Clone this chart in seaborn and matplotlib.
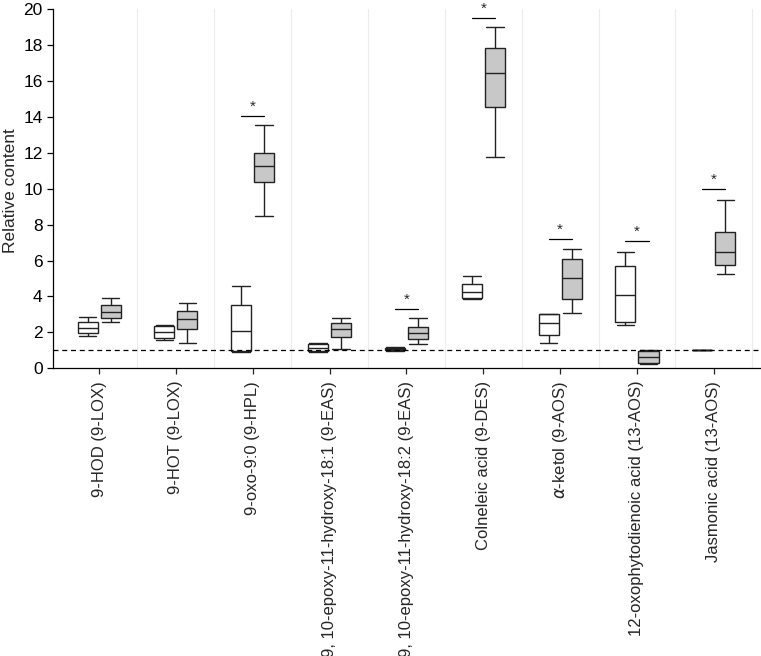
import numpy as np
import pandas as pd
import seaborn as sns
import matplotlib
matplotlib.use("Agg")
import matplotlib.pyplot as plt

compounds = ["9-HOD (9-LOX)", "9-HOT (9-LOX)", "9-oxo-9:0 (9-HPL)",
             "9, 10-epoxy-11-hydroxy-18:1 (9-EAS)",
             "9, 10-epoxy-11-hydroxy-18:2 (9-EAS)",
             "Colneleic acid (9-DES)", "$\\alpha$-ketol (9-AOS)",
             "12-oxophytodienoic acid (13-AOS)", "Jasmonic acid (13-AOS)"]

# five-number summaries: min, q1, median, q3, max
control = [[1.80, 1.95, 2.25, 2.60, 2.85],
           [1.58, 1.67, 2.00, 2.35, 2.40],
           [0.93, 0.96, 2.08, 3.53, 4.60],
           [0.93, 0.98, 1.15, 1.38, 1.42],
           [0.98, 1.02, 1.08, 1.15, 1.20],
           [3.87, 3.90, 4.27, 4.71, 5.16],
           [1.39, 1.86, 2.50, 3.03, 3.05],
           [2.41, 2.60, 4.08, 5.70, 6.46],
           [1.00, 1.00, 1.00, 1.00, 1.00]]
treated = [[2.56, 2.79, 3.12, 3.53, 3.90],
           [1.39, 2.17, 2.73, 3.19, 3.65],
           [8.48, 10.36, 11.27, 12.01, 13.55],
           [1.08, 1.73, 2.19, 2.50, 2.82],
           [1.34, 1.62, 1.95, 2.32, 2.82],
           [11.79, 14.57, 16.47, 17.83, 19.03],
           [3.10, 3.86, 5.01, 6.07, 6.63],
           [0.25, 0.30, 0.65, 0.95, 1.00],
           [5.25, 5.75, 6.46, 7.61, 9.40]]
groups = ["control", "treated"]
# significance bars: (compound index, bar height)
sig_marks = [(2, 14.05), (4, 3.33), (5, 19.5), (6, 7.19), (7, 7.08), (8, 9.99)]

rows = []
for name, c, t in zip(compounds, control, treated):
    for v in c:
        rows.append((name, groups[0], v))
    for v in t:
        rows.append((name, groups[1], v))
df = pd.DataFrame(rows, columns=["compound", "group", "value"])

sns.set_style("ticks")
plt.rcParams["font.family"] = ["Liberation Sans", "DejaVu Sans"]
plt.rcParams["mathtext.fontset"] = "dejavusans"

fig = plt.figure(figsize=(7.61, 6.56), dpi=100)
ax = fig.add_axes([0.0696, 0.4386, 0.929, 0.5473])

sns.boxplot(data=df, x="compound", y="value", hue="group", order=compounds,
            hue_order=groups, palette={"control": "white", "treated": "#c8c8c8"},
            width=0.6, gap=0.13, whis=(0, 100), linecolor="#222222",
            linewidth=1.0, legend=False, ax=ax, capwidths=0.23)

ax.axhline(1, ls="--", color="black", lw=0.9, dashes=(4, 3), zorder=5)

for i, h in sig_marks:
    ax.plot([i - 0.15, i + 0.15], [h, h], color="black", lw=0.9)
    ax.text(i, h + 0.12, "*", ha="center", va="bottom", fontsize=11)

ax.set_xticks(np.arange(len(compounds)) + 0.5, minor=True)
ax.grid(axis="x", which="minor", color="#ececec", lw=0.8)
ax.tick_params(axis="x", which="minor", length=0)
ax.set_xlim(-0.6, 8.6)
ax.set_ylim(0, 20)
ax.set_yticks(range(0, 21, 2))
ax.set_xticks(range(len(compounds)))
ax.set_xticklabels(compounds, rotation=90, fontsize=12)
ax.tick_params(axis="y", labelsize=12.5, length=4, width=0.9, colors="black")
ax.tick_params(axis="x", which="major", length=4, width=0.9, pad=5)
ax.set_xlabel("")
ax.set_ylabel("Relative content", fontsize=12.5)
ax.yaxis.set_label_coords(-0.049, 0.496)
sns.despine(ax=ax)
for s in ["left", "bottom"]:
    ax.spines[s].set_color("black")
    ax.spines[s].set_linewidth(0.9)

fig.savefig("out.png", dpi=100)
